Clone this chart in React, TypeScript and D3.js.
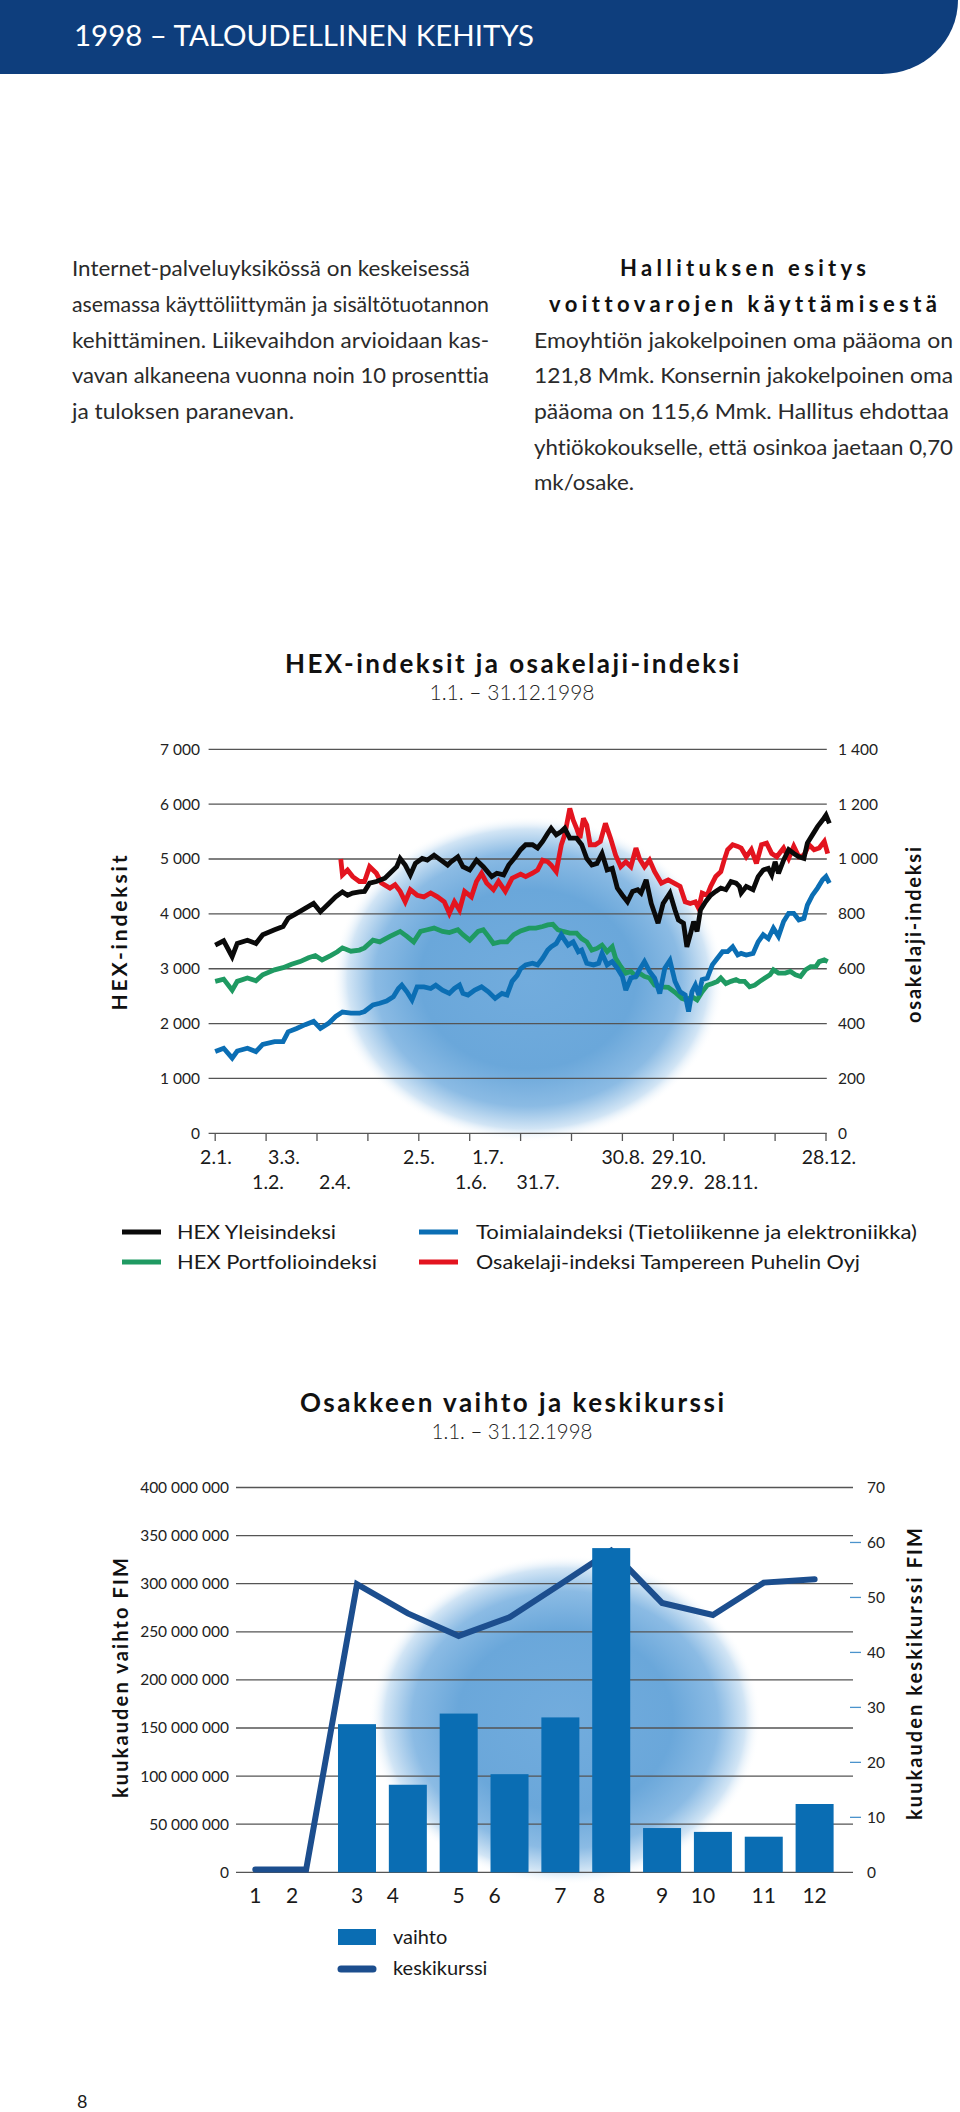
import React from "react";
import * as d3 from "d3";

const FONT = "Lato, 'Open Sans', 'DejaVu Sans', sans-serif";

// ---------------- Chart 1: HEX-indeksit ----------------
const hexTicks = [0, 1000, 2000, 3000, 4000, 5000, 6000, 7000];
const osakeTicks = [0, 200, 400, 600, 800, 1000, 1200, 1400];
const dateRow1 = ["2.1.", "3.3.", "2.5.", "1.7.", "30.8.", "29.10.", "28.12."];
const dateRow2 = ["1.2.", "2.4.", "1.6.", "31.7.", "29.9.", "28.11."];
// [day of year, index value]
const yleisindeksi: [number, number][] = [
  [2,3430],[7,3510],[12,3220],[15,3460],[21,3520],[26,3460],[30,3620],[37,3710],[42,3770],[45,3920],
  [50,4010],[55,4100],[60,4190],[64,4040],[69,4190],[73,4310],[77,4400],[80,4340],[83,4380],[87,4400],
  [90,4410],[93,4560],[97,4590],[102,4650],[105,4740],[109,4860],[111,5010],[114,4890],[117,4710],[120,4920],
  [124,5010],[127,4980],[131,5070],[135,4980],[139,4890],[141,4950],[145,5040],[148,4860],[152,4800],[156,4980],
  [160,4860],[165,4680],[168,4740],[172,4710],[175,4890],[179,5040],[182,5170],[185,5260],[189,5260],[192,5200],
  [195,5320],[198,5470],[200,5560],[203,5440],[206,5500],[208,5560],[211,5380],[215,5380],[218,5260],[221,5010],
  [224,4890],[227,4920],[230,5100],[233,4800],[236,4830],[239,4470],[242,4340],[245,4220],[248,4410],[251,4440],
  [253,4380],[256,4620],[259,4190],[263,3830],[266,4190],[270,4380],[273,4070],[275,3890],[278,3830],[280,3400],
  [282,3620],[284,3860],[286,3680],[288,4070],[291,4220],[294,4340],[297,4410],[300,4470],[303,4440],[306,4590],
  [309,4560],[311,4500],[312,4380],[315,4500],[319,4440],[322,4680],[325,4800],[328,4830],[330,4710],[332,4950],
  [334,4740],[337,4980],[340,5170],[343,5100],[346,5040],[349,5010],[351,5290],[354,5440],[357,5590],[360,5710],
  [362,5800],[364,5650],
];
const portfolioindeksi: [number, number][] = [
  [2,2770],[7,2810],[12,2610],[15,2770],[21,2830],[26,2780],[30,2890],[37,2980],[42,3020],[47,3080],
  [52,3130],[57,3200],[61,3240],[65,3160],[70,3240],[74,3310],[77,3380],[82,3320],[87,3340],[90,3380],
  [95,3520],[99,3490],[105,3590],[111,3680],[115,3590],[119,3490],[123,3680],[127,3710],[131,3740],[136,3680],
  [140,3660],[145,3710],[148,3620],[152,3520],[157,3680],[160,3710],[163,3590],[166,3460],[170,3490],[174,3490],
  [178,3620],[182,3690],[187,3740],[191,3740],[195,3770],[198,3800],[201,3810],[204,3710],[207,3680],[211,3650],
  [215,3650],[218,3550],[221,3490],[224,3340],[227,3370],[230,3430],[233,3310],[236,3400],[238,3190],[241,3040],
  [244,2920],[247,2950],[250,2860],[252,2920],[255,2860],[258,2830],[261,2700],[265,2670],[269,2660],[273,2570],
  [277,2460],[280,2430],[283,2490],[286,2430],[289,2580],[292,2700],[295,2730],[298,2770],[300,2830],[303,2730],
  [306,2770],[309,2800],[311,2770],[314,2770],[317,2670],[320,2700],[323,2770],[326,2830],[329,2890],[331,2980],
  [334,2920],[338,2920],[341,2950],[344,2890],[347,2860],[350,2980],[353,3040],[356,3040],[358,3130],[361,3160],
  [363,3130],
];
const toimialaindeksi: [number, number][] = [
  [2,1490],[7,1550],[12,1370],[15,1500],[21,1550],[26,1490],[30,1620],[37,1670],[42,1670],[45,1850],
  [50,1910],[55,1980],[60,2040],[64,1910],[69,2010],[73,2130],[77,2210],[82,2190],[87,2190],[90,2220],
  [95,2340],[99,2370],[103,2410],[107,2490],[110,2640],[112,2700],[115,2580],[118,2430],[121,2670],[125,2670],
  [129,2640],[132,2700],[136,2610],[140,2550],[143,2640],[146,2700],[148,2550],[151,2520],[155,2610],[159,2670],
  [163,2580],[167,2460],[171,2550],[174,2520],[177,2770],[180,2880],[182,3000],[185,3070],[189,3100],[192,3070],
  [195,3190],[198,3340],[200,3400],[203,3460],[206,3620],[208,3520],[210,3430],[213,3490],[216,3310],[218,3340],
  [221,3100],[225,3070],[228,3100],[230,3280],[233,3070],[236,3130],[239,3010],[242,2860],[244,2610],[247,2830],
  [250,2860],[252,2980],[255,3130],[258,2950],[261,2830],[264,2550],[267,3010],[270,3150],[273,2770],[276,2580],
  [279,2520],[281,2220],[283,2580],[285,2700],[287,2520],[289,2800],[292,2830],[295,3070],[298,3190],[301,3310],
  [304,3310],[307,3400],[310,3250],[312,3280],[315,3250],[319,3280],[322,3490],[325,3620],[328,3550],[331,3740],
  [334,3590],[337,3860],[340,4010],[343,4010],[346,3890],[349,3920],[351,4160],[354,4340],[357,4470],[360,4620],
  [362,4680],[364,4560],
];
// right axis units
const osakelajiindeksi: [number, number][] = [
  [76,1000],[77,942],[80,960],[83,936],[87,918],[90,918],[93,972],[97,948],[100,912],[105,894],
  [108,906],[111,882],[114,844],[117,888],[121,868],[125,862],[129,876],[133,862],[137,844],[140,802],
  [143,844],[146,814],[149,882],[153,862],[156,918],[159,948],[162,912],[166,888],[169,918],[173,882],
  [177,930],[182,945],[185,936],[189,948],[192,960],[195,996],[198,990],[200,978],[203,954],[206,1052],
  [208,1088],[211,1184],[213,1142],[215,1112],[217,1076],[219,1148],[221,1124],[223,1052],[226,1052],[229,1064],
  [232,1130],[235,1076],[238,1014],[241,972],[244,990],[247,972],[250,1040],[252,1002],[255,972],[258,996],
  [261,954],[265,912],[269,924],[273,910],[276,900],[279,844],[282,838],[285,844],[287,820],[289,876],
  [292,868],[294,900],[297,936],[300,954],[302,996],[304,1034],[307,1052],[310,1046],[312,1040],[315,1008],
  [318,1034],[321,984],[324,1052],[327,1058],[330,1020],[333,1008],[337,1040],[340,1002],[343,1046],[346,1008],
  [349,1014],[352,1052],[355,1034],[358,1040],[361,1064],[363,1020],
];
const legend1Names = [
  "HEX Yleisindeksi",
  "HEX Portfolioindeksi",
  "Toimialaindeksi (Tietoliikenne ja elektroniikka)",
  "Osakelaji-indeksi Tampereen Puhelin Oyj",
];

// ---------------- Chart 2: Osakkeen vaihto ----------------
const months = [1, 2, 3, 4, 5, 6, 7, 8, 9, 10, 11, 12];
const vaihto = [0, 0, 154e6, 91e6, 165e6, 102e6, 161e6, 337e6, 46e6, 42e6, 37e6, 71e6];
const keskikurssi = [0.5, 0.5, 52.4, 47.1, 43.0, 46.4, 52.4, 58.5, 49.0, 46.8, 52.7, 53.3];
const vaihtoTicks = [0, 50e6, 100e6, 150e6, 200e6, 250e6, 300e6, 350e6, 400e6];
const kurssiTicks = [0, 10, 20, 30, 40, 50, 60, 70];

// ---------------- layout ----------------
const row1X = [216, 284, 419, 488, 623, 679, 829];
const row2X = [268, 335, 471, 538, 672, 731];
const monthLabelDx = [0, -14, 0, -15, 0, -15, 0, -12, 0, -10, 0, 0];

const fmt = d3
  .formatLocale({ decimal: ",", thousands: " ", grouping: [3], currency: ["", ""] })
  .format(",");

const BLACK = "#0a0a0a";
const GREEN = "#1f9a62";
const BLUE = "#0b6eb4";
const RED = "#e3141f";
const BAR = "#0a6db3";
const KLINE = "#1c4e8e";
const GRID = "#555";
const TXT = "#1a1a1a";

export default function App() {
  // chart 1 scales
  const xDay = d3.scaleLinear().domain([2, 362]).range([215.2, 826]);
  const yHex = d3.scaleLinear().domain([0, 7000]).range([1133.3, 749.3]);
  const yOsake = d3.scaleLinear().domain([0, 1400]).range([1133.3, 749.3]);
  const monthTicks = d3.range(13).map((i) => 2 + i * 30);
  const lineHex = d3
    .line<[number, number]>()
    .x((d) => xDay(d[0]))
    .y((d) => yHex(d[1]));
  const lineOsake = d3
    .line<[number, number]>()
    .x((d) => xDay(d[0]))
    .y((d) => yOsake(d[1]));

  const series = [
    { data: portfolioindeksi, color: GREEN, gen: lineHex },
    { data: toimialaindeksi, color: BLUE, gen: lineHex },
    { data: osakelajiindeksi, color: RED, gen: lineOsake },
    { data: yleisindeksi, color: BLACK, gen: lineHex },
  ];
  const legend1 = [
    { name: legend1Names[0], color: BLACK, x: 122, tx: 177, y: 1232, len: 159 },
    { name: legend1Names[1], color: GREEN, x: 122, tx: 177, y: 1262, len: 200 },
    { name: legend1Names[2], color: BLUE, x: 419, tx: 476, y: 1232, len: 441 },
    { name: legend1Names[3], color: RED, x: 419, tx: 476, y: 1262, len: 384 },
  ];

  // chart 2 scales
  const xMonth = d3.scalePoint<number>().domain(months).range([255.3, 814.6]);
  const yVaihto = d3.scaleLinear().domain([0, 400e6]).range([1872.3, 1487.5]);
  const yKurssi = d3.scaleLinear().domain([0, 70]).range([1872.3, 1487.5]);
  const barW = 38;
  const kLine = d3
    .line<number>()
    .x((_, i) => xMonth(months[i]) as number)
    .y((d) => yKurssi(d));

  const leftCol = [
    { t: "Internet-palveluyksikössä on keskeisessä", len: 398 },
    { t: "asemassa käyttöliittymän ja sisältötuotannon", len: 417 },
    { t: "kehittäminen. Liikevaihdon arvioidaan kas-", len: 417 },
    { t: "vavan alkaneena vuonna noin 10 prosenttia", len: 417 },
    { t: "ja tuloksen paranevan.", len: 222 },
  ];
  const leftY = [276, 312, 347.5, 383, 419];
  const rightCol = [
    { t: "Emoyhtiön jakokelpoinen oma pääoma on", len: 419 },
    { t: "121,8 Mmk. Konsernin jakokelpoinen oma", len: 419 },
    { t: "pääoma on 115,6 Mmk. Hallitus ehdottaa", len: 415 },
    { t: "yhtiökokoukselle, että osinkoa jaetaan 0,70", len: 419 },
    { t: "mk/osake.", len: 100 },
  ];
  const rightY = [347.5, 383, 419, 454.5, 490];

  return (
    <svg
      width={960}
      height={2112}
      viewBox="0 0 960 2112"
      style={{ position: "absolute", left: 0, top: 0, background: "#fff", fontVariantLigatures: "none" }}
      fontFamily={FONT}
    >
      <defs>
        <radialGradient id="blob" cx="50%" cy="50%" r="50%">
          <stop offset="0%" stopColor="#72acdd" />
          <stop offset="55%" stopColor="#6aa7da" />
          <stop offset="78%" stopColor="#8bbbe4" />
          <stop offset="92%" stopColor="#d2e5f5" />
          <stop offset="100%" stopColor="#ffffff" stopOpacity={0} />
        </radialGradient>
      </defs>
      <rect x={0} y={0} width={960} height={2112} fill="#fff" />

      {/* Header band */}
      <path d="M0,0 H958 A76,74 0 0 1 882,74 H0 Z" fill="#0e3e7d" />
      <text x={74} y={46} fontSize={29} fill="#fff" fontWeight={400} textLength={460} lengthAdjust="spacingAndGlyphs">
        1998 – TALOUDELLINEN KEHITYS
      </text>

      {/* Body text */}
      {leftCol.map((l, i) => (
        <text key={"l" + i} x={72} y={leftY[i]} fontSize={21} fontWeight={400} fill="#2a2a2a" textLength={l.len} lengthAdjust="spacingAndGlyphs">
          {l.t}
        </text>
      ))}
      <text x={743} y={276} fontSize={22} fontWeight={700} fill="#111" textAnchor="middle" textLength={246} lengthAdjust="spacing">
        Hallituksen esitys
      </text>
      <text x={743} y={312} fontSize={22} fontWeight={700} fill="#111" textAnchor="middle" textLength={388} lengthAdjust="spacing">
        voittovarojen käyttämisestä
      </text>
      {rightCol.map((l, i) => (
        <text key={"r" + i} x={534} y={rightY[i]} fontSize={21} fontWeight={400} fill="#2a2a2a" textLength={l.len} lengthAdjust="spacingAndGlyphs">
          {l.t}
        </text>
      ))}

      {/* ---------- Chart 1 ---------- */}
      <text x={512} y={673} fontSize={26} fontWeight={700} fill="#111" textAnchor="middle" textLength={454} lengthAdjust="spacing">
        HEX-indeksit ja osakelaji-indeksi
      </text>
      <text x={512} y={700} fontSize={21} fontWeight={300} fill="#222" textAnchor="middle" textLength={165} lengthAdjust="spacingAndGlyphs">
        1.1. – 31.12.1998
      </text>
      <ellipse cx={528} cy={979} rx={196} ry={163} fill="url(#blob)" />
      {hexTicks.map((t) => (
        <g key={"hg" + t}>
          <line x1={208.6} x2={826.8} y1={yHex(t)} y2={yHex(t)} stroke={GRID} strokeWidth={1.3} />
          <text x={200} y={yHex(t)} dy="0.35em" fontSize={15.5} fontWeight={400} fill="#222" textAnchor="end">
            {fmt(t)}
          </text>
        </g>
      ))}
      {osakeTicks.map((t) => (
        <text key={"ot" + t} x={838} y={yOsake(t)} dy="0.35em" fontSize={15.5} fontWeight={400} fill="#222">
          {fmt(t)}
        </text>
      ))}
      {monthTicks.map((d) => (
        <line key={"mt" + d} x1={xDay(d)} x2={xDay(d)} y1={1133.3} y2={1141} stroke={GRID} strokeWidth={1.3} />
      ))}
      {dateRow1.map((s, i) => (
        <text key={"d1" + s} x={row1X[i]} y={1164} fontSize={19.5} fontWeight={400} fill={TXT} textAnchor="middle">
          {s}
        </text>
      ))}
      {dateRow2.map((s, i) => (
        <text key={"d2" + s} x={row2X[i]} y={1189} fontSize={19.5} fontWeight={400} fill={TXT} textAnchor="middle">
          {s}
        </text>
      ))}
      {series.map((s, i) => (
        <path
          key={"s" + i}
          d={s.gen(s.data) || ""}
          fill="none"
          stroke={s.color}
          strokeWidth={4.8}
          strokeLinejoin="miter"
          strokeMiterlimit={3}
        />
      ))}
      <text
        transform="translate(127,933) rotate(-90)"
        fontSize={21}
        fontWeight={700}
        fill="#111"
        textAnchor="middle"
        textLength={155}
        lengthAdjust="spacing"
      >
        HEX-indeksit
      </text>
      <text
        transform="translate(921,935) rotate(-90)"
        fontSize={20}
        fontWeight={700}
        fill="#111"
        textAnchor="middle"
        textLength={176}
        lengthAdjust="spacing"
      >
        osakelaji-indeksi
      </text>
      {legend1.map((l) => (
        <g key={l.name}>
          <line x1={l.x} x2={l.x + 39} y1={l.y} y2={l.y} stroke={l.color} strokeWidth={5} />
          <text x={l.tx} y={l.y + 7} fontSize={20} fontWeight={400} fill={TXT} textLength={l.len} lengthAdjust="spacingAndGlyphs">
            {l.name}
          </text>
        </g>
      ))}

      {/* ---------- Chart 2 ---------- */}
      <text x={512} y={1412} fontSize={26} fontWeight={700} fill="#111" textAnchor="middle" textLength={424} lengthAdjust="spacing">
        Osakkeen vaihto ja keskikurssi
      </text>
      <text x={512} y={1439} fontSize={21} fontWeight={300} fill="#222" textAnchor="middle" textLength={161} lengthAdjust="spacingAndGlyphs">
        1.1. – 31.12.1998
      </text>
      <ellipse cx={565} cy={1720} rx={196} ry={165} fill="url(#blob)" />
      {vaihtoTicks.map((t) => (
        <g key={"vg" + t}>
          <line x1={236} x2={853} y1={yVaihto(t)} y2={yVaihto(t)} stroke={GRID} strokeWidth={1.3} />
          <text x={229} y={yVaihto(t)} dy="0.35em" fontSize={15.5} fontWeight={400} fill="#222" textAnchor="end">
            {fmt(t)}
          </text>
        </g>
      ))}
      {kurssiTicks.map((t) => (
        <g key={"kt" + t}>
          {t > 0 && t < 70 && (
            <line x1={850} x2={861} y1={yKurssi(t)} y2={yKurssi(t)} stroke="#4b93cc" strokeWidth={1.3} />
          )}
          <text x={867} y={yKurssi(t)} dy="0.35em" fontSize={15.5} fontWeight={400} fill="#222">
            {t}
          </text>
        </g>
      ))}
      <path d={kLine(keskikurssi) || ""} fill="none" stroke={KLINE} strokeWidth={6} strokeLinecap="round" strokeLinejoin="miter" />
      {months.map((m, i) =>
        vaihto[i] > 0 ? (
          <rect
            key={"b" + m}
            x={(xMonth(m) as number) - barW / 2}
            y={yVaihto(vaihto[i])}
            width={barW}
            height={yVaihto(0) - yVaihto(vaihto[i])}
            fill={BAR}
          />
        ) : null
      )}
      {months.map((m, i) => (
        <text key={"ml" + m} x={(xMonth(m) as number) + monthLabelDx[i]} y={1903} fontSize={21} fontWeight={400} fill={TXT} textAnchor="middle">
          {m}
        </text>
      ))}
      <text
        transform="translate(128,1678) rotate(-90)"
        fontSize={20}
        fontWeight={700}
        fill="#111"
        textAnchor="middle"
        textLength={240}
        lengthAdjust="spacing"
      >
        kuukauden vaihto FIM
      </text>
      <text
        transform="translate(922,1674) rotate(-90)"
        fontSize={20}
        fontWeight={700}
        fill="#111"
        textAnchor="middle"
        textLength={292}
        lengthAdjust="spacing"
      >
        kuukauden keskikurssi FIM
      </text>
      <rect x={338} y={1929} width={38} height={16} fill={BAR} />
      <text x={393} y={1944} fontSize={20} fontWeight={400} fill={TXT}>vaihto</text>
      <line x1={341} x2={373} y1={1969} y2={1969} stroke={KLINE} strokeWidth={7} strokeLinecap="round" />
      <text x={393} y={1975} fontSize={20} fontWeight={400} fill={TXT}>keskikurssi</text>

      <text x={77} y={2108} fontSize={18} fontWeight={400} fill={TXT}>8</text>
    </svg>
  );
}
